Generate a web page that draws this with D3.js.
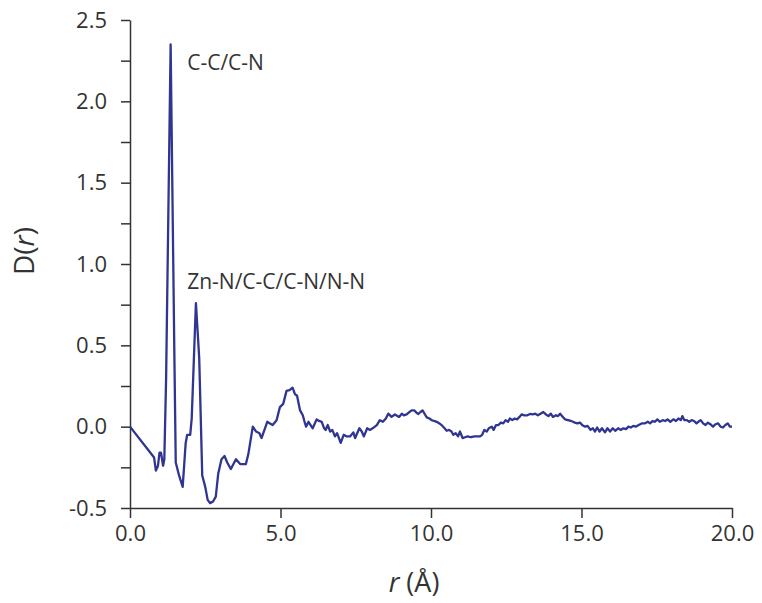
<!DOCTYPE html>
<html>
<head>
<meta charset="utf-8">
<script src="https://cdn.jsdelivr.net/npm/d3@7"></script>
<style>
  html, body { margin: 0; padding: 0; background: #ffffff; }
  svg { display: block; }
  text { font-family: "Open Sans", "Noto Sans", sans-serif; fill: #333333; }
</style>
</head>
<body>
<svg id="chart" width="762" height="603"></svg>
<script>
// r (Å) sample positions
const rValues = [
  0.00, 0.80, 0.86, 0.93, 0.98, 1.03, 1.10, 1.14, 1.20, 1.35, 1.47, 1.52, 1.63, 1.75, 1.85, 1.90,
  2.00, 2.05, 2.19, 2.30, 2.40, 2.50, 2.58, 2.66, 2.76, 2.85, 2.93, 3.04, 3.14, 3.23, 3.35, 3.52,
  3.66, 3.85, 3.93, 4.08, 4.19, 4.30, 4.37, 4.56, 4.65, 4.74, 4.87, 4.98, 5.09, 5.20, 5.30, 5.40,
  5.48, 5.55, 5.65, 5.74, 5.80, 5.85, 5.93, 6.00, 6.07, 6.20, 6.28, 6.37, 6.45, 6.50, 6.57, 6.65,
  6.72, 6.81, 6.88, 7.00, 7.10, 7.20, 7.31, 7.42, 7.48, 7.62, 7.70, 7.77, 7.88, 7.97, 8.06, 8.20,
  8.30, 8.40, 8.50, 8.58, 8.69, 8.80, 8.94, 9.03, 9.10, 9.19, 9.28, 9.36, 9.45, 9.52, 9.58, 9.65,
  9.72, 9.80, 9.86, 9.95, 10.02, 10.10, 10.19, 10.28, 10.35, 10.45, 10.52, 10.60, 10.68, 10.74, 10.82, 10.90,
  10.96, 11.05, 11.13, 11.22, 11.32, 11.45, 11.55, 11.63, 11.70, 11.77, 11.85, 11.92, 12.02, 12.08, 12.16, 12.24,
  12.32, 12.40, 12.48, 12.56, 12.62, 12.70, 12.78, 12.86, 12.94, 13.01, 13.10, 13.20, 13.29, 13.38, 13.46, 13.55,
  13.64, 13.73, 13.82, 13.90, 13.98, 14.05, 14.15, 14.22, 14.29, 14.38, 14.45, 14.55, 14.65, 14.72, 14.78, 14.86,
  14.95, 15.02, 15.12, 15.20, 15.30, 15.38, 15.45, 15.52, 15.60, 15.68, 15.78, 15.86, 15.95, 16.04, 16.12, 16.22,
  16.30, 16.39, 16.48, 16.56, 16.64, 16.72, 16.80, 16.90, 17.00, 17.10, 17.20, 17.28, 17.36, 17.44, 17.52, 17.60,
  17.70, 17.78, 17.86, 17.95, 18.05, 18.14, 18.22, 18.30, 18.35, 18.42, 18.50, 18.58, 18.66, 18.74, 18.82, 18.88,
  18.96, 19.04, 19.12, 19.20, 19.28, 19.37, 19.45, 19.54, 19.62, 19.70, 19.78, 19.86, 19.93, 20.00
];
// D(r) values
const dValues = [
  0.00, -0.19, -0.27, -0.24, -0.16, -0.16, -0.24, -0.20, 0.30, 2.35, 0.50, -0.22, -0.30, -0.37, -0.10, -0.05,
  -0.05, 0.05, 0.76, 0.42, -0.30, -0.37, -0.45, -0.47, -0.46, -0.43, -0.29, -0.20, -0.18, -0.22, -0.26, -0.20,
  -0.23, -0.23, -0.17, 0.00, -0.03, -0.04, -0.07, 0.03, 0.02, 0.01, 0.04, 0.12, 0.14, 0.22, 0.225, 0.24,
  0.20, 0.19, 0.10, 0.07, 0.03, 0.00, 0.03, 0.01, -0.01, 0.045, 0.035, 0.03, -0.01, -0.02, 0.01, -0.03,
  -0.02, -0.06, -0.04, -0.10, -0.05, -0.06, -0.06, -0.035, -0.07, -0.01, -0.03, -0.06, -0.01, -0.02, -0.01, 0.01,
  0.04, 0.03, 0.05, 0.08, 0.06, 0.075, 0.06, 0.08, 0.07, 0.075, 0.09, 0.10, 0.10, 0.085, 0.078, 0.09,
  0.10, 0.075, 0.057, 0.05, 0.04, 0.035, 0.03, 0.02, 0.01, -0.01, -0.025, -0.02, -0.03, -0.05, -0.04, -0.06,
  -0.03, -0.07, -0.065, -0.06, -0.065, -0.06, -0.06, -0.06, -0.05, -0.02, -0.03, -0.01, 0.00, -0.02, 0.01, 0.01,
  0.025, 0.02, 0.04, 0.03, 0.05, 0.04, 0.05, 0.045, 0.06, 0.075, 0.07, 0.07, 0.078, 0.075, 0.08, 0.07,
  0.08, 0.09, 0.075, 0.065, 0.08, 0.06, 0.07, 0.065, 0.08, 0.06, 0.045, 0.04, 0.035, 0.03, 0.025, 0.02,
  0.025, 0.01, 0.00, 0.005, -0.02, -0.01, -0.03, -0.005, -0.03, -0.01, -0.035, -0.01, -0.03, -0.01, -0.025, -0.01,
  -0.02, -0.01, -0.015, 0.00, -0.005, 0.005, 0.00, 0.01, 0.02, 0.02, 0.03, 0.02, 0.035, 0.03, 0.045, 0.03,
  0.04, 0.035, 0.045, 0.03, 0.045, 0.035, 0.05, 0.04, 0.065, 0.04, 0.04, 0.03, 0.04, 0.035, 0.02, 0.03,
  0.04, 0.02, 0.01, 0.025, 0.015, 0.00, 0.015, 0.02, 0.00, -0.005, 0.01, 0.02, 0.00, 0.00
];
const xTicks = [0, 5, 10, 15, 20];
const xTickLabels = ["0.0", "5.0", "10.0", "15.0", "20.0"];
const yTicks = [-0.5, 0.0, 0.5, 1.0, 1.5, 2.0, 2.5];
const yTickLabels = ["-0.5", "0.0", "0.5", "1.0", "1.5", "2.0", "2.5"];
const yMinorTicks = [-0.25, 0.25, 0.75, 1.25, 1.75, 2.25];
const annotationLabels = ["C-C/C-N", "Zn-N/C-C/C-N/N-N"];
const annotationAnchors = [[1.90, 2.225], [1.90, 0.88]];

const svg = d3.select("#chart");
const margin = { left: 130, right: 30, top: 20, bottom: 95 };
const W = 762, H = 603;
const x = d3.scaleLinear().domain([0, 20]).range([margin.left, W - margin.right]);
const y = d3.scaleLinear().domain([-0.5, 2.5]).range([H - margin.bottom, margin.top]);

const axisColor = "#333333";

// x axis
const gx = svg.append("g").attr("transform", `translate(0,${y(-0.5)})`)
  .call(d3.axisBottom(x).tickValues(xTicks).tickFormat((d, i) => xTickLabels[i]).tickSize(10).tickPadding(7).tickSizeOuter(0));
gx.select(".domain").attr("stroke", axisColor).attr("stroke-width", 1.5);
gx.selectAll(".tick line").attr("stroke", axisColor).attr("stroke-width", 1.5);
gx.selectAll(".tick text").style("font-size", "22px").attr("fill", axisColor).style("font-family", "'Open Sans', sans-serif");

// y axis
const gy = svg.append("g").attr("transform", `translate(${x(0)},0)`)
  .call(d3.axisLeft(y).tickValues(yTicks).tickFormat((d, i) => yTickLabels[i]).tickSize(9).tickPadding(14).tickSizeOuter(0));
gy.select(".domain").attr("stroke", axisColor).attr("stroke-width", 1.5);
gy.selectAll(".tick line").attr("stroke", axisColor).attr("stroke-width", 1.5);
gy.selectAll(".tick text").style("font-size", "22px").attr("fill", axisColor).style("font-family", "'Open Sans', sans-serif");

// minor y ticks
svg.append("g").attr("transform", `translate(${x(0)},0)`)
  .call(d3.axisLeft(y).tickValues(yMinorTicks).tickFormat("").tickSize(9).tickSizeOuter(0))
  .call(g => g.select(".domain").remove())
  .selectAll(".tick line").attr("stroke", axisColor).attr("stroke-width", 1.5);

// data line
const pts = rValues.map((r, i) => [r, dValues[i]]);
svg.append("path")
  .datum(pts)
  .attr("fill", "none")
  .attr("stroke", "#2f3590")
  .attr("stroke-width", 2.3)
  .attr("stroke-linejoin", "round")
  .attr("d", d3.line().x(d => x(d[0])).y(d => y(d[1])));

// annotations
annotationLabels.forEach((t, i) => {
  svg.append("text")
    .attr("x", x(annotationAnchors[i][0]))
    .attr("y", y(annotationAnchors[i][1]))
    .attr("dominant-baseline", "middle")
    .style("font-size", "21px")
    .text(t);
});

// y label
const yl = svg.append("text")
  .attr("transform", `translate(34,251) rotate(-90)`)
  .attr("text-anchor", "middle")
  .style("font-size", "28px");
yl.append("tspan").text("D(");
yl.append("tspan").style("font-style", "italic").text("r");
yl.append("tspan").text(")");

// x label
const xl = svg.append("text")
  .attr("x", 414).attr("y", 592)
  .attr("text-anchor", "middle")
  .style("font-size", "27px");
xl.append("tspan").style("font-style", "italic").text("r");
xl.append("tspan").text(" (Å)");
</script>
</body>
</html>
